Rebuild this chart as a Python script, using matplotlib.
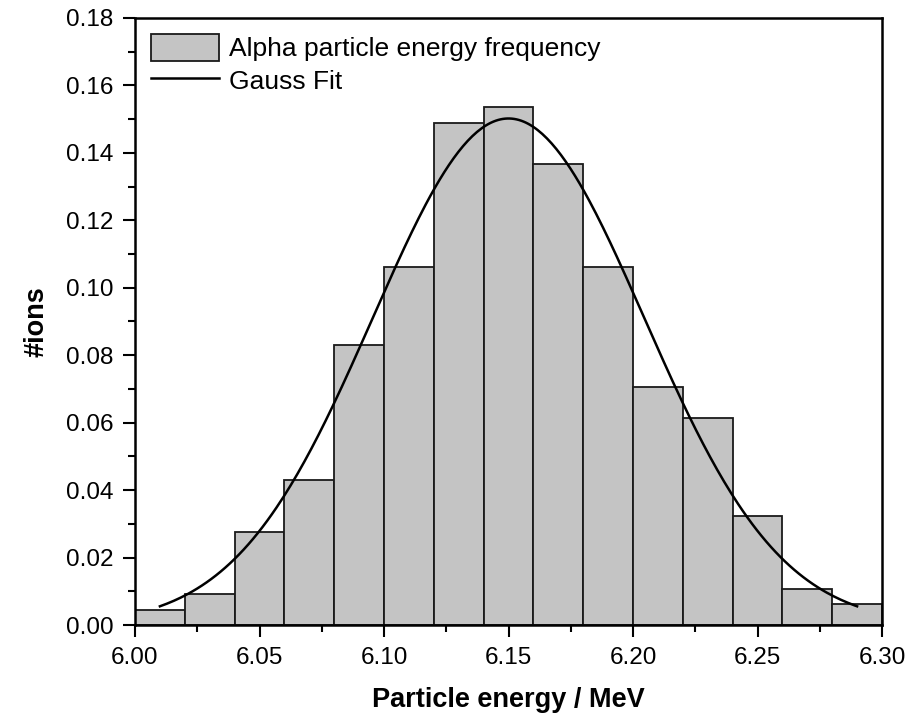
import numpy as np
import matplotlib
matplotlib.use("Agg")
import matplotlib.pyplot as plt
from matplotlib.ticker import MultipleLocator, FormatStrFormatter

# histogram bins (left edges), width 0.02 MeV
bin_left = [6.00, 6.02, 6.04, 6.06, 6.08, 6.10, 6.12, 6.14,
            6.16, 6.18, 6.20, 6.22, 6.24, 6.26, 6.28]
bin_width = 0.02
freq = [0.0045, 0.0092, 0.0276, 0.0430, 0.0830, 0.1062, 0.1490, 0.1536,
        0.1368, 0.1062, 0.0706, 0.0614, 0.0322, 0.0107, 0.0062]

# Gauss fit parameters
fit_xc = 6.15
fit_amp = 0.1502
fit_sigma = 0.0545
fit_range = (6.01, 6.29)

plt.rcParams['font.family'] = ['Liberation Sans', 'DejaVu Sans']

fig = plt.figure(figsize=(9.23, 7.18), dpi=100)
ax = fig.add_axes([135 / 923, 1 - 625 / 718, (882 - 135) / 923, (625 - 18) / 718])

bars = ax.bar(bin_left, freq, width=bin_width, align='edge', color='#c4c4c4',
              edgecolor='#1a1a1a', linewidth=1.3, label='Alpha particle energy frequency', zorder=2)

xf = np.linspace(fit_range[0], fit_range[1], 300)
yf = fit_amp * np.exp(-(xf - fit_xc) ** 2 / (2 * fit_sigma ** 2))
line, = ax.plot(xf, yf, color='black', linewidth=1.8, label='Gauss Fit', zorder=3)

ax.set_xlim(6.00, 6.30)
ax.set_ylim(0, 0.18)
ax.xaxis.set_major_locator(MultipleLocator(0.05))
ax.xaxis.set_minor_locator(MultipleLocator(0.025))
ax.yaxis.set_major_locator(MultipleLocator(0.02))
ax.yaxis.set_minor_locator(MultipleLocator(0.01))
ax.xaxis.set_major_formatter(FormatStrFormatter('%.2f'))
ax.yaxis.set_major_formatter(FormatStrFormatter('%.2f'))
ax.tick_params(which='major', direction='out', length=8.6, width=1.5, labelsize=17.5, pad=7)
ax.tick_params(which='minor', direction='out', length=5, width=1.5)
for s in ax.spines.values():
    s.set_linewidth(1.8)

ax.set_xlabel('Particle energy / MeV', fontsize=19.5, fontweight='bold', labelpad=13)
ax.set_ylabel('#ions', fontsize=19.5, fontweight='bold', labelpad=12)

ax.legend([bars, line], ['Alpha particle energy frequency', 'Gauss Fit'],
          loc='upper left', frameon=False, fontsize=19, handlelength=2.6, handleheight=1.2,
          borderaxespad=0.2, labelspacing=0.2, handletextpad=0.35)

fig.savefig('out.png', dpi=100)
